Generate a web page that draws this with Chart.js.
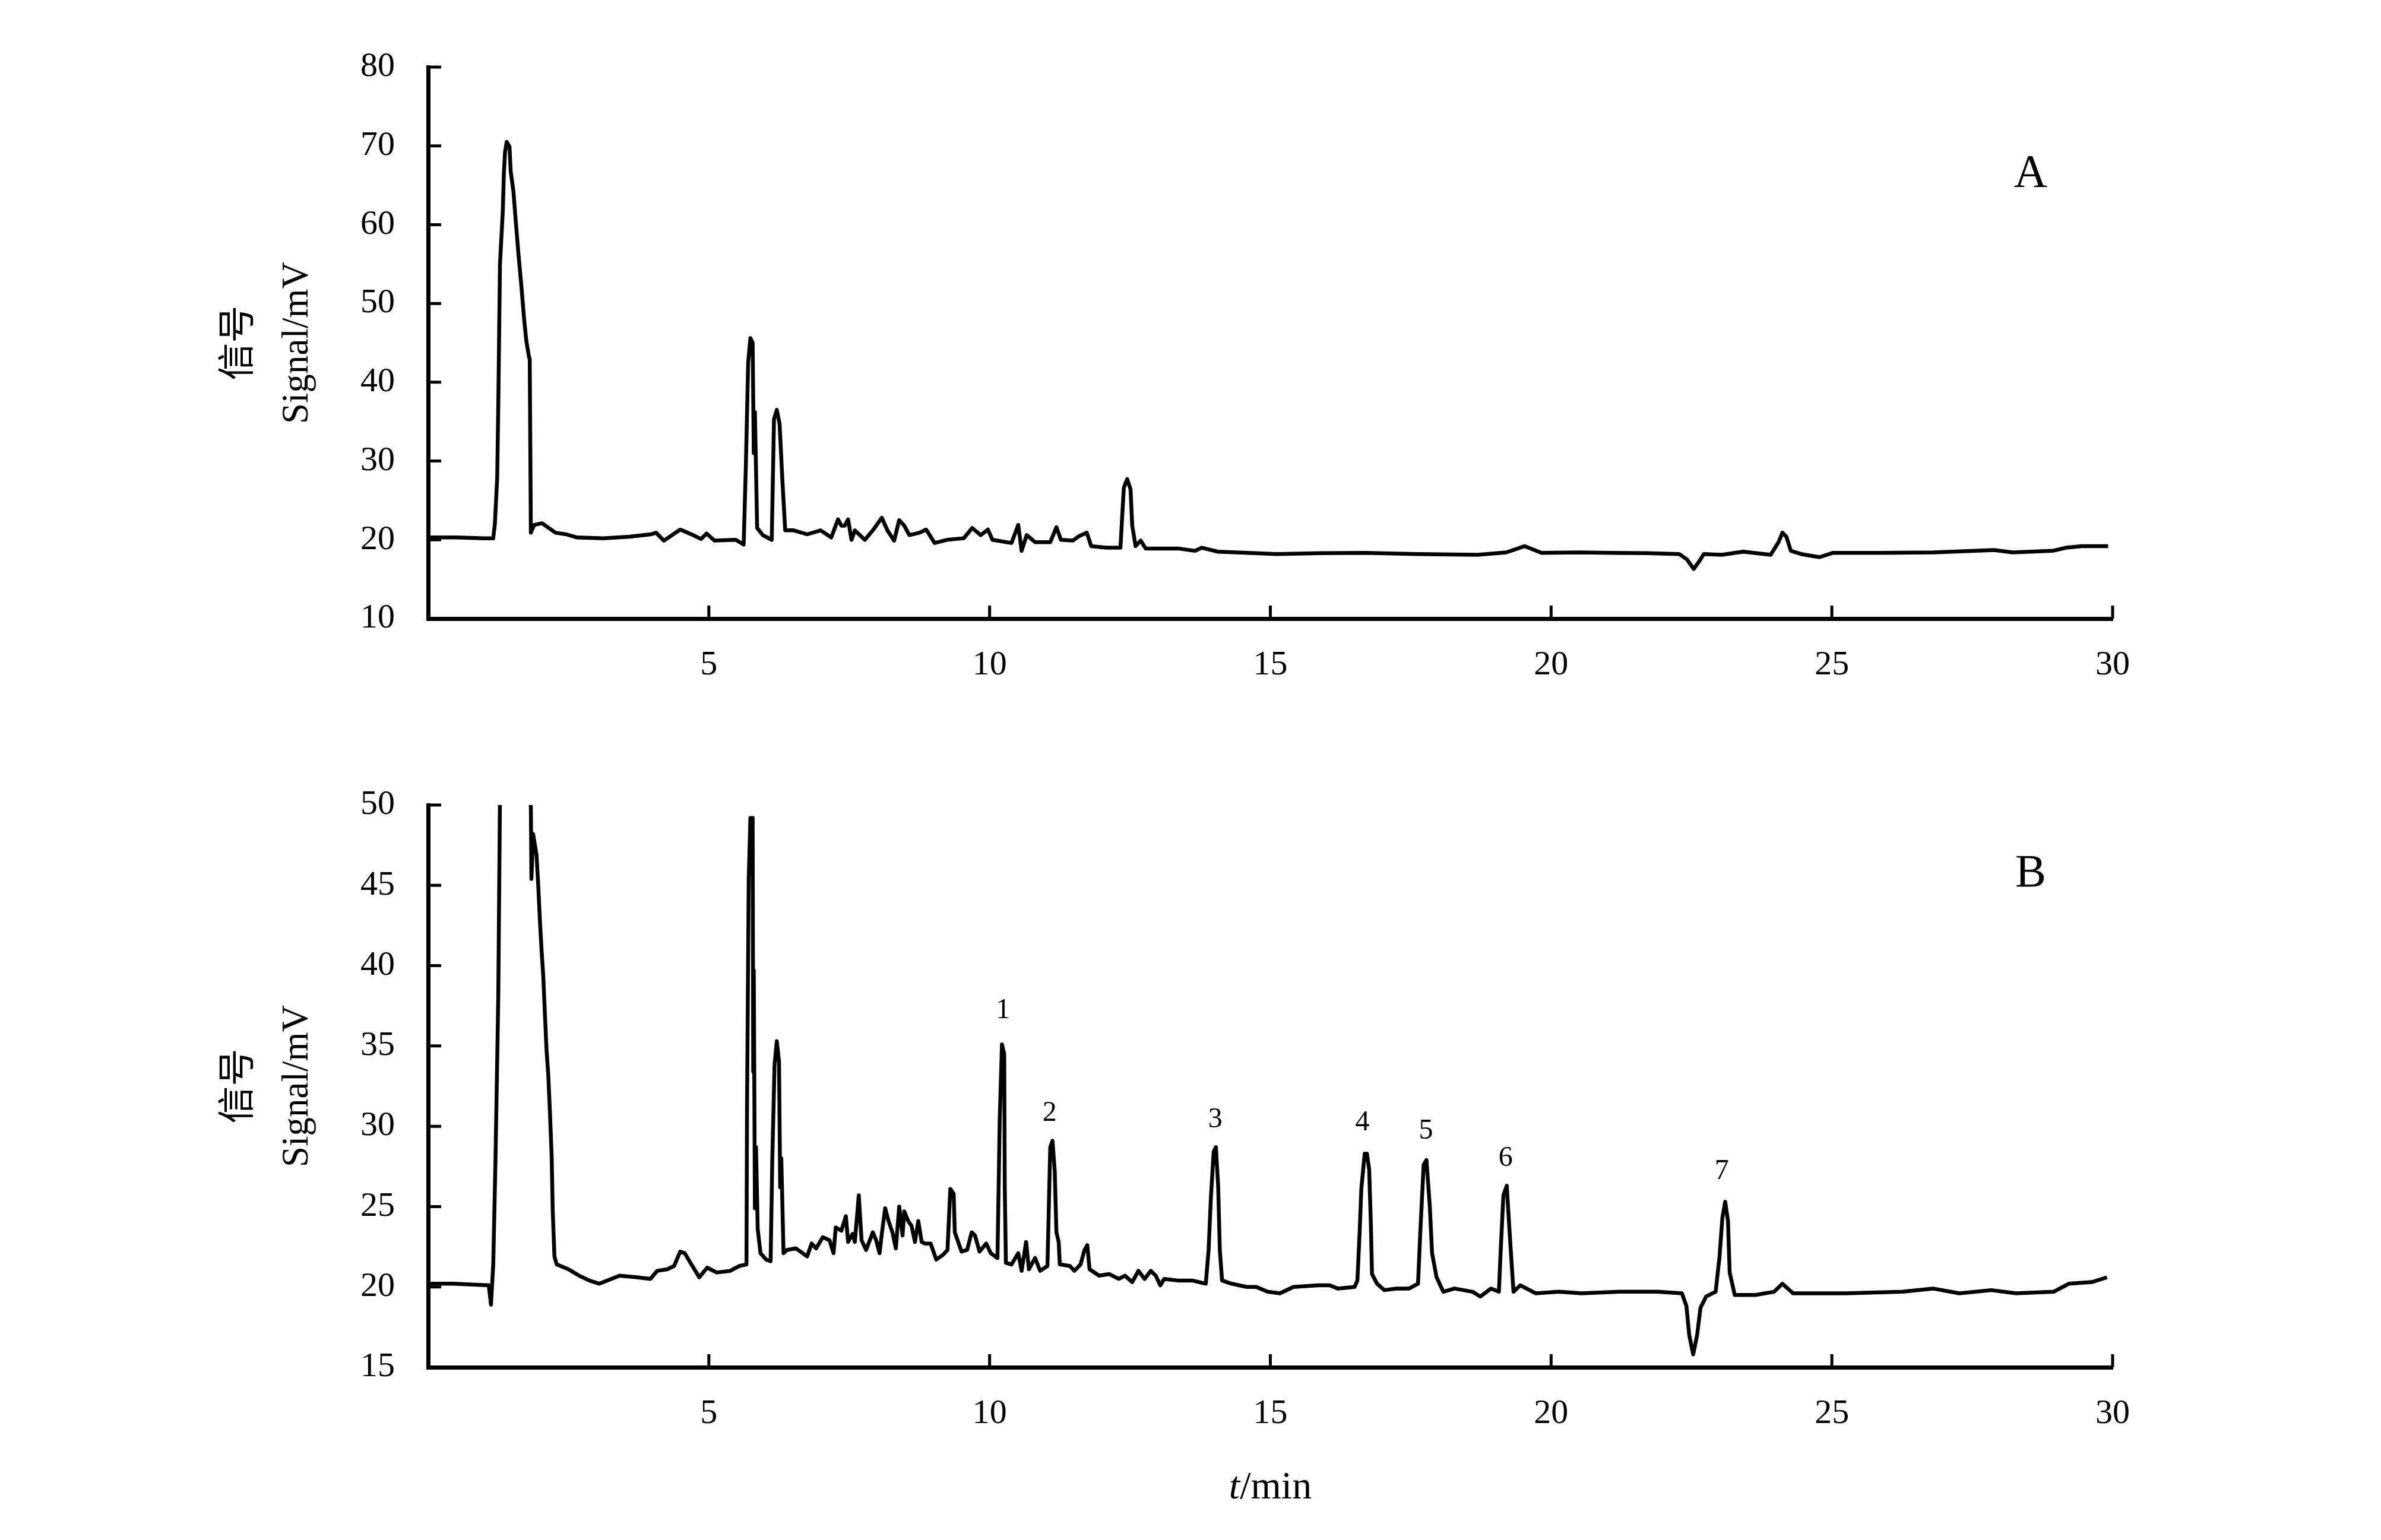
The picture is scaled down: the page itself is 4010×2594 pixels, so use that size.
<!DOCTYPE html>
<html>
<head>
<meta charset="utf-8">
<script src="https://cdn.jsdelivr.net/npm/chart.js@4.4.1/dist/chart.umd.min.js"></script>
<style>
  html, body { margin: 0; padding: 0; background: #fff; }
  canvas { position: absolute; left: 0; }
  #chartA { top: 0; }
  #chartB { top: 1250px; }
</style>
</head>
<body>
<canvas id="chartA" width="4010" height="1250"></canvas>
<canvas id="chartB" width="4010" height="1344"></canvas>
<script>
// retention time (min) and signal (mV)
const timeA = [0.00, 0.50, 1.00, 1.16, 1.19, 1.23, 1.25, 1.28, 1.33, 1.35, 1.37, 1.40, 1.45, 1.47, 1.52, 1.56, 1.61, 1.66, 1.71, 1.75, 1.80, 1.81, 1.83, 1.89, 2.03, 2.27, 2.46, 2.65, 3.12, 3.59, 3.97, 4.06, 4.20, 4.49, 4.72, 4.86, 4.96, 5.10, 5.48, 5.62, 5.66, 5.70, 5.74, 5.78, 5.80, 5.82, 5.86, 5.96, 6.12, 6.16, 6.21, 6.26, 6.31, 6.36, 6.51, 6.75, 6.99, 7.18, 7.30, 7.36, 7.42, 7.48, 7.54, 7.60, 7.78, 7.93, 8.08, 8.18, 8.30, 8.39, 8.48, 8.57, 8.75, 8.87, 9.02, 9.24, 9.54, 9.69, 9.84, 9.97, 10.05, 10.39, 10.51, 10.57, 10.66, 10.81, 11.08, 11.19, 11.27, 11.48, 11.60, 11.73, 11.81, 12.08, 12.33, 12.39, 12.45, 12.51, 12.54, 12.60, 12.69, 12.78, 13.05, 13.36, 13.66, 13.78, 14.06, 14.60, 15.11, 15.90, 16.68, 17.60, 18.69, 19.20, 19.53, 19.83, 20.50, 21.06, 21.70, 22.28, 22.42, 22.54, 22.64, 22.72, 23.04, 23.42, 23.91, 24.05, 24.12, 24.19, 24.27, 24.45, 24.78, 25.02, 25.87, 26.81, 27.89, 28.22, 28.93, 29.17, 29.45, 29.92];
const signalA = [20.3, 20.3, 20.2, 20.2, 22.1, 27.8, 37.0, 55.0, 61.7, 66.6, 69.2, 70.5, 69.9, 66.8, 64.2, 60.5, 56.2, 52.3, 48.0, 45.2, 43.1, 43.0, 20.9, 21.9, 22.1, 20.9, 20.7, 20.3, 20.2, 20.4, 20.7, 20.9, 19.9, 21.3, 20.6, 20.1, 20.8, 19.9, 20.0, 19.4, 29.7, 42.5, 45.6, 45.0, 31.0, 36.2, 21.5, 20.6, 20.0, 35.3, 36.5, 34.7, 27.5, 21.2, 21.2, 20.7, 21.2, 20.3, 22.6, 21.8, 21.8, 22.6, 20.0, 21.2, 20.0, 21.3, 22.8, 21.2, 19.9, 22.5, 21.8, 20.6, 20.9, 21.3, 19.6, 20.0, 20.2, 21.5, 20.6, 21.3, 20.0, 19.6, 21.9, 18.6, 20.6, 19.7, 19.7, 21.6, 20.0, 19.9, 20.5, 20.9, 19.2, 19.0, 19.0, 26.6, 27.7, 26.4, 21.8, 19.2, 19.9, 18.9, 18.9, 18.9, 18.6, 19.0, 18.5, 18.35, 18.2, 18.3, 18.35, 18.2, 18.1, 18.4, 19.2, 18.35, 18.4, 18.35, 18.3, 18.2, 17.5, 16.3, 17.3, 18.2, 18.1, 18.5, 18.1, 19.7, 20.9, 20.4, 18.6, 18.2, 17.8, 18.35, 18.35, 18.4, 18.7, 18.4, 18.6, 19.0, 19.2, 19.2];

const timeB = [0.00, 0.45, 1.08, 1.12, 1.16, 1.20, 1.25, 1.28, 1.33, 1.40, 1.50, 1.65, 1.80, 1.83, 1.84, 1.87, 1.93, 1.96, 1.99, 2.02, 2.05, 2.08, 2.11, 2.14, 2.17, 2.20, 2.22, 2.25, 2.29, 2.50, 2.69, 2.87, 3.05, 3.41, 3.72, 3.96, 4.08, 4.26, 4.38, 4.49, 4.57, 4.69, 4.83, 4.97, 5.14, 5.38, 5.54, 5.67, 5.68, 5.71, 5.74, 5.78, 5.79, 5.80, 5.82, 5.84, 5.87, 5.92, 6.02, 6.10, 6.13, 6.17, 6.21, 6.25, 6.27, 6.29, 6.33, 6.39, 6.55, 6.67, 6.75, 6.83, 6.91, 7.03, 7.15, 7.22, 7.26, 7.36, 7.44, 7.48, 7.56, 7.60, 7.67, 7.72, 7.80, 7.92, 7.98, 8.04, 8.08, 8.14, 8.20, 8.27, 8.33, 8.39, 8.45, 8.48, 8.55, 8.61, 8.67, 8.73, 8.79, 8.85, 8.95, 9.05, 9.17, 9.25, 9.30, 9.36, 9.38, 9.50, 9.60, 9.68, 9.74, 9.82, 9.94, 10.02, 10.14, 10.18, 10.22, 10.26, 10.27, 10.29, 10.39, 10.51, 10.57, 10.65, 10.70, 10.81, 10.90, 11.03, 11.08, 11.12, 11.16, 11.19, 11.23, 11.25, 11.43, 11.51, 11.62, 11.69, 11.74, 11.78, 11.95, 12.13, 12.30, 12.41, 12.54, 12.65, 12.76, 12.87, 12.96, 13.04, 13.11, 13.35, 13.61, 13.85, 13.90, 13.94, 13.99, 14.03, 14.07, 14.10, 14.14, 14.31, 14.58, 14.75, 14.95, 15.17, 15.41, 15.85, 16.06, 16.20, 16.50, 16.55, 16.59, 16.62, 16.68, 16.72, 16.76, 16.79, 16.81, 16.90, 17.03, 17.24, 17.47, 17.63, 17.67, 17.73, 17.78, 17.84, 17.88, 17.96, 18.08, 18.28, 18.60, 18.74, 18.93, 19.07, 19.10, 19.15, 19.21, 19.27, 19.33, 19.45, 19.73, 20.14, 20.54, 21.22, 21.89, 22.33, 22.41, 22.46, 22.53, 22.60, 22.66, 22.76, 22.93, 23.00, 23.05, 23.10, 23.15, 23.18, 23.27, 23.64, 23.97, 24.12, 24.31, 25.25, 26.26, 26.80, 27.27, 27.84, 28.28, 28.95, 29.22, 29.63, 29.90];
const signalB = [20.2, 20.2, 20.1, 18.9, 21.4, 27.9, 38.1, 50.5, 62.0, 71.0, 66.0, 57.0, 51.0, 49.9, 45.4, 48.2, 46.9, 45.1, 42.9, 41.0, 39.4, 37.0, 34.7, 33.2, 30.85, 28.2, 24.7, 21.9, 21.4, 21.1, 20.7, 20.4, 20.2, 20.7, 20.6, 20.5, 21.0, 21.1, 21.3, 22.2, 22.1, 21.4, 20.6, 21.2, 20.9, 21.0, 21.3, 21.4, 31.3, 45.4, 49.2, 49.2, 33.4, 39.7, 24.9, 28.7, 23.6, 22.1, 21.7, 21.6, 28.0, 33.8, 35.3, 34.0, 26.2, 28.0, 22.1, 22.3, 22.4, 22.1, 21.9, 22.7, 22.4, 23.1, 22.9, 22.1, 23.7, 23.5, 24.4, 22.8, 23.3, 22.8, 25.7, 22.9, 22.3, 23.4, 22.9, 22.1, 23.3, 24.9, 24.1, 23.4, 22.4, 25.0, 23.2, 24.7, 24.1, 23.8, 22.8, 24.1, 22.8, 22.7, 22.7, 21.7, 22.0, 22.3, 26.1, 25.8, 23.4, 22.2, 22.3, 23.4, 23.2, 22.2, 22.7, 22.1, 21.8, 30.4, 35.1, 34.5, 26.2, 21.5, 21.4, 22.1, 21.0, 22.8, 21.1, 21.8, 21.0, 21.3, 28.7, 29.1, 27.2, 23.4, 22.8, 21.4, 21.3, 21.0, 21.4, 22.3, 22.6, 21.1, 20.7, 20.8, 20.5, 20.7, 20.3, 21.0, 20.5, 21.0, 20.7, 20.1, 20.5, 20.4, 20.4, 20.2, 22.3, 25.5, 28.4, 28.7, 26.3, 22.3, 20.4, 20.2, 20.0, 20.0, 19.7, 19.6, 20.0, 20.1, 20.1, 19.9, 20.0, 20.4, 23.4, 26.1, 28.3, 28.3, 27.3, 23.9, 20.8, 20.2, 19.8, 19.9, 19.9, 20.2, 23.4, 27.6, 27.9, 25.0, 22.1, 20.6, 19.7, 19.9, 19.7, 19.4, 19.9, 19.7, 22.1, 25.7, 26.3, 22.9, 19.7, 20.1, 19.6, 19.7, 19.6, 19.7, 19.7, 19.6, 18.8, 17.0, 15.8, 17.0, 18.7, 19.4, 19.7, 21.9, 24.3, 25.3, 24.1, 20.9, 19.5, 19.5, 19.7, 20.2, 19.6, 19.6, 19.7, 19.9, 19.6, 19.8, 19.6, 19.7, 20.2, 20.3, 20.6];

const xTicks = [5, 10, 15, 20, 25, 30];
const yTicksA = [10, 20, 30, 40, 50, 60, 70, 80];
const yTicksB = [15, 20, 25, 30, 35, 40, 45, 50];

// peak numbers in panel B, placed in data units (t, mV)
const peakNames = ['1', '2', '3', '4', '5', '6', '7'];
const peakLabelT = [10.24, 11.07, 14.02, 16.64, 17.77, 19.19, 23.04];
const peakLabelY = [37.2, 30.8, 30.4, 30.2, 29.7, 28.0, 27.2];

const SERIF = "'Liberation Serif', 'Times New Roman', serif";
const YTITLE_FONT = "'Liberation Serif', 'Noto Sans CJK SC', serif";

// ticks pointing into the plot, plus free text placed through the scales
const figureExtras = {
    id: 'figureExtras',
    afterDraw(chart, args, opts) {
        const { ctx, chartArea, scales: { x, y } } = chart;
        ctx.save();
        ctx.strokeStyle = '#000';
        ctx.lineWidth = 5;
        ctx.beginPath();
        x.ticks.forEach(t => {
            const px = x.getPixelForValue(t.value);
            ctx.moveTo(px, chartArea.bottom);
            ctx.lineTo(px, chartArea.bottom - 22);
        });
        y.ticks.forEach(t => {
            const py = y.getPixelForValue(t.value);
            ctx.moveTo(chartArea.left, py);
            ctx.lineTo(chartArea.left + 22, py);
        });
        ctx.stroke();

        ctx.fillStyle = '#000';
        ctx.textAlign = 'center';
        ctx.textBaseline = 'middle';
        (opts.labels || []).forEach(l => {
            ctx.font = l.size + 'px ' + SERIF;
            ctx.fillText(l.text, x.getPixelForValue(l.t), y.getPixelForValue(l.v));
        });

        if (opts.xTitle) {
            ctx.textBaseline = 'alphabetic';
            ctx.textAlign = 'left';
            const cx = (chartArea.left + chartArea.right) / 2;
            const by = chartArea.bottom + 221;
            ctx.font = 'italic 66px ' + SERIF;
            const wT = ctx.measureText('t').width;
            ctx.font = '66px ' + SERIF;
            const wR = ctx.measureText('/min').width;
            const x0 = cx - (wT + wR) / 2;
            ctx.font = 'italic 66px ' + SERIF;
            ctx.fillText('t', x0, by);
            ctx.font = '66px ' + SERIF;
            ctx.fillText('/min', x0 + wT, by);
        }
        ctx.restore();
    }
};

function makePanel(canvasId, times, signals, yMin, yMax, yTicks, areaTop, areaBottom, labels, xTitle) {
    const canvas = document.getElementById(canvasId);
    const ctx = canvas.getContext('2d');
    const bottomBand = canvas.height - areaBottom;

    return new Chart(ctx, {
        type: 'line',
        data: {
            datasets: [{
                data: times.map((t, i) => ({ x: t, y: signals[i] })),
                borderColor: '#000',
                borderWidth: 6.5,
                borderJoinStyle: 'round',
                pointRadius: 0,
                tension: 0,
                fill: false
            }]
        },
        options: {
            responsive: false,
            animation: false,
            events: [],
            layout: { padding: { top: areaTop, right: 452, left: 0, bottom: 0 } },
            plugins: {
                legend: { display: false },
                tooltip: { enabled: false },
                figureExtras: { labels: labels, xTitle: xTitle }
            },
            scales: {
                x: {
                    type: 'linear',
                    min: 0,
                    max: 30,
                    afterBuildTicks: s => { s.ticks = xTicks.map(v => ({ value: v })); },
                    afterFit: s => { s.height = bottomBand; },
                    grid: { display: true, drawOnChartArea: false, drawTicks: false },
                    border: { display: true, color: '#000', width: 7 },
                    ticks: { color: '#000', padding: 44, maxRotation: 0, font: { family: SERIF, size: 58 } }
                },
                y: {
                    type: 'linear',
                    min: yMin,
                    max: yMax,
                    afterBuildTicks: s => { s.ticks = yTicks.map(v => ({ value: v })); },
                    afterFit: s => { s.width = 721; },
                    grid: { display: true, drawOnChartArea: false, drawTicks: false },
                    border: { display: true, color: '#000', width: 7 },
                    ticks: { color: '#000', padding: 56, font: { family: SERIF, size: 58 } },
                    title: {
                        display: true,
                        text: ['信号', 'Signal/mV'],
                        color: '#000',
                        padding: { top: 354, bottom: 0 },
                        font: { family: YTITLE_FONT, size: 63, lineHeight: 1.556 }
                    }
                }
            }
        },
        plugins: [figureExtras]
    });
}

window.onload = () => {
    makePanel('chartA', timeA, signalA, 10, 80, yTicksA, 113, 1042,
        [{ text: 'A', t: 28.54, v: 66.4, size: 78 }], false);

    const labelsB = peakNames.map((n, i) => ({ text: n, t: peakLabelT[i], v: peakLabelY[i], size: 48 }));
    labelsB.push({ text: 'B', t: 28.54, v: 45.7, size: 78 });
    makePanel('chartB', timeB, signalB, 15, 50, yTicksB, 106, 1053, labelsB, true);
};
</script>
</body>
</html>
